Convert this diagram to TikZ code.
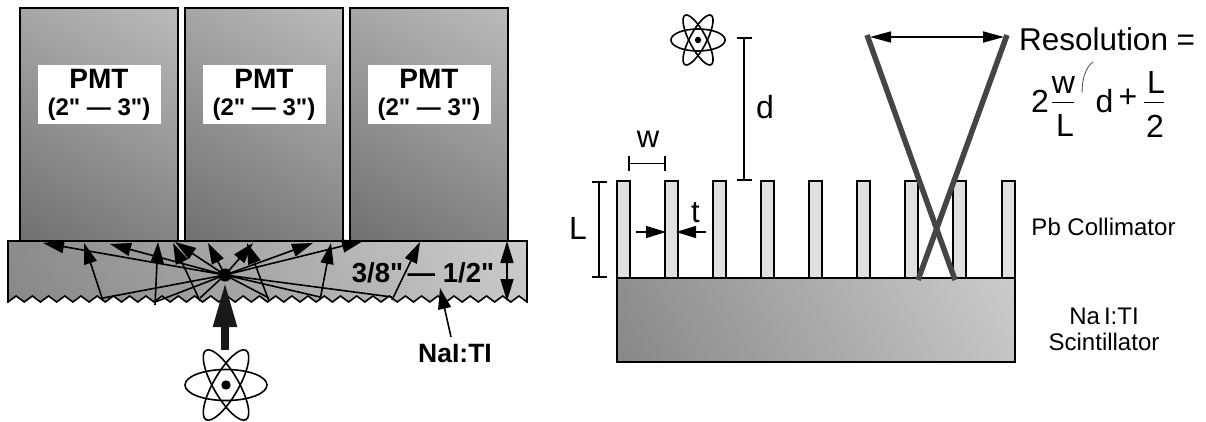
\documentclass[tikz,border=0pt]{standalone}
\usepackage{fontspec}
\setmainfont{Liberation Sans}
\newfontfamily\plainf{Liberation Sans}
\usetikzlibrary{arrows.meta,calc}
\newcommand{\fsz}[1]{\fontsize{#1pt}{#1pt}\selectfont}
\definecolor{pmtdark}{gray}{0.37}
\definecolor{pmtlight}{gray}{0.80}
\definecolor{scdark}{gray}{0.47}
\definecolor{sclight}{gray}{0.86}
\definecolor{slatlight}{gray}{0.95}
\definecolor{slatdark}{gray}{0.83}
\definecolor{beamgrey}{gray}{0.27}
\pgfdeclareverticalshading{pmtshade}{100bp}{color(0bp)=(pmtdark); color(100bp)=(pmtlight)}
\pgfdeclareverticalshading{scshade}{100bp}{color(0bp)=(scdark); color(100bp)=(sclight)}
\newcommand{\atom}[5]{% name, x, y, xscale, yscale
  \begin{scope}[shift={(#2,#3)},xscale=#4,yscale=#5]
    \coordinate (#1) at (0,0);
    \draw[atomline] (0,0) ellipse [x radius=41, y radius=15.5];
    \draw[atomline,rotate=60] (0,0) ellipse [x radius=40, y radius=12.5];
    \draw[atomline,rotate=-60] (0,0) ellipse [x radius=40, y radius=12.5];
    \fill[black] (0,0) circle (4.7);
  \end{scope}}
\tikzset{
  x=1pt,y=-1pt,
  atomline/.style={draw=black,line width=1.6pt},
  pmt/.style={draw=black,line width=2pt,shading=pmtshade,shading angle=-29},
  scint/.style={draw=black,line width=1.8pt,shading=scshade,shading angle=-60},
  lab/.style={fill=white,inner sep=0pt,minimum width=123pt,minimum height=59pt},
  pmttxt/.style={font=\plainf\bfseries\fsz{28},inner sep=0pt},
  sizetxt/.style={font=\plainf\bfseries\fsz{24},inner sep=0pt},
  ray/.style={draw=black,line width=1.6pt},
  tip/.style={ray,-{Triangle[length=21pt,width=13pt]}},
  bigtip/.style={draw=black,line width=1.6pt,{Triangle[length=22pt,width=13pt]}-{Triangle[length=22pt,width=13pt]}},
  slat/.style={draw=black,line width=2pt},
  beam/.style={draw=beamgrey,line width=5.5pt},
  ibar/.style={draw=black,line width=1.8pt,{Bar[width=15pt,line width=1.8pt]}-{Bar[width=15pt,line width=1.8pt]}},
  small/.style={font=\fsz{24}},
  mid/.style={font=\fsz{32},inner sep=0pt,anchor=base},
}
\begin{document}
\begin{tikzpicture}
\useasboundingbox (0,0) rectangle (1206,422);
% scintillator left
\path[scint,draw=none] (8,241) -- (527,241) -- (527,302)
  \foreach \i in {1,...,32}{ -- ({527-(\i-0.5)*16.22},296) -- ({527-\i*16.22},302) } -- cycle;
\draw[line width=1.8pt] (8,303) -- (8,241) -- (527,241) -- (527,303);
\draw[line width=1.6pt] (8,302)
  \foreach \i in {1,...,32}{ -- ({8+(\i-0.5)*16.22},296) -- ({8+\i*16.22},302) };
% PMTs
\foreach \n/\x in {a/20,b/185,c/350}{
  \path[pmt] (\x,8) rectangle ++(158,233);
  \node[lab] (pmt\n) at ({\x+79},94.5) {};
  \node[pmttxt] (pmtt\n) at ({\x+79},79) {PMT};
  \node[sizetxt] (pmts\n) at ({\x+79},109) {(2" — 3")};
}
% rays
\coordinate (c0) at (225,275);
\foreach \tx/\ty in {43/243,110/244,175/242,208/243,253/243,313/243,363/241}{
  \draw[tip] (c0) -- (\tx,\ty);
}
\foreach \bx/\by/\tx/\ty in {103/301/84/243,155/305/158/242,200/301/173/243,269/301/247/243,320/300/331/243,392/300/420/242}{
  \draw[ray] (c0) -- (\bx,{\by-3});
  \draw[tip] (\bx,\by) -- (\tx,\ty);
}
\fill[black] (c0) circle (6.5);
\node[font=\plainf\bfseries\fsz{27.5},anchor=base,inner sep=0pt] (dim) at (423,282) {3/8"\,— 1/2"};
\coordinate (dimt) at (507,241);
\coordinate (dimb) at (507,301);
\draw[bigtip] (dimt) -- (dimb);
\node[font=\bfseries\fsz{26.5},anchor=base,inner sep=0pt] (nai) at (455,362) {NaI:TI};
\coordinate (nais) at (451,337);
\draw[tip] (nais) -- (440,288);
% atom and big arrow
\atom{atomA}{226}{385}{1}{1}
\coordinate (bigstart) at (225,350);
\coordinate (bigend) at (225,282);
\draw[line width=8pt,black!90,-{Triangle[length=45pt,width=22pt]}] (bigstart) -- (bigend);
% right: collimator
\foreach \sx in {617,665,713,761,809,857,905,953,1002}{
  \path[slat,fill=slatdark!60!slatlight] (\sx,181) rectangle ++(13,97);
}
\path[scint] (617,278) rectangle (1015,362);
\coordinate (bl) at (955,280); \coordinate (br) at (918,280);
\coordinate (tl) at (867,35); \coordinate (tr) at (1007,35);
\draw[beam] (tl) -- (bl);
\draw[beam] (tr) -- (br);
\coordinate (al) at (870,37); \coordinate (ar) at (1004,37);
\draw[draw=black,line width=1.6pt,{Triangle[length=21pt,width=11pt]}-{Triangle[length=21pt,width=11pt]}] (al) -- (ar);
% dimensions
\coordinate (Lt) at (599,181); \coordinate (Lb) at (599,278);
\draw[ibar] (Lt) -- (Lb);
\node[mid] (Ltxt) at (578,239) {L};
\coordinate (dt) at (744,37); \coordinate (db) at (744,181);
\draw[ibar] (dt) -- (db);
\node[mid] (dtxt) at (765,119) {d};
\coordinate (wl) at (628,163.5); \coordinate (wr) at (666,163.5);
\draw[ibar] (wl) -- (wr);
\node[mid,font=\fsz{31}] (wtxt) at (648,148) {w};
\node[mid,font=\fsz{31}] (ttxt) at (695.5,222) {t};
\coordinate (t1s) at (636,232); \coordinate (t1e) at (666,232);
\coordinate (t2s) at (706,232); \coordinate (t2e) at (676,232);
\draw[line width=1.5pt,-{Triangle[length=20pt,width=12pt]}] (t1s) -- (t1e);
\draw[line width=1.5pt,-{Triangle[length=20pt,width=12pt]}] (t2s) -- (t2e);
\atom{atomB}{698}{40}{0.66}{0.71}
% texts
\node[font=\fsz{31.5},anchor=base west,inner sep=0pt] (res) at (1019,51) {Resolution =};
\node[mid] (two) at (1040,113) {2};
\node[mid] (fw) at (1063.5,94) {w};
\node[mid] (fL) at (1065,137) {L};
\coordinate (f1) at (1052,102.5); \coordinate (f2) at (1074,102.5);
\draw[line width=1pt] (f1) -- (f2);
\coordinate (p1) at (1093,62); \coordinate (p2) at (1082,93);
\draw[line width=0.8pt,black!70] (p1) .. controls (1086,67) and (1082,78) .. (p2);
\node[mid] (fd) at (1104.5,113) {d};
\node[mid] (fp) at (1128,108) {+};
\node[mid] (gL) at (1156,94) {L};
\node[mid] (g2) at (1155,138) {2};
\coordinate (g1) at (1144,102.5); \coordinate (g3) at (1164,102.5);
\draw[line width=1pt] (g1) -- (g3);
\node[small] (pb) at (1103.5,227) {Pb Collimator};
\node[small] (na2) at (1104,316) {Na\,I:TI};
\node[small] (sc) at (1104,342) {Scintillator};
\end{tikzpicture}
\end{document}
